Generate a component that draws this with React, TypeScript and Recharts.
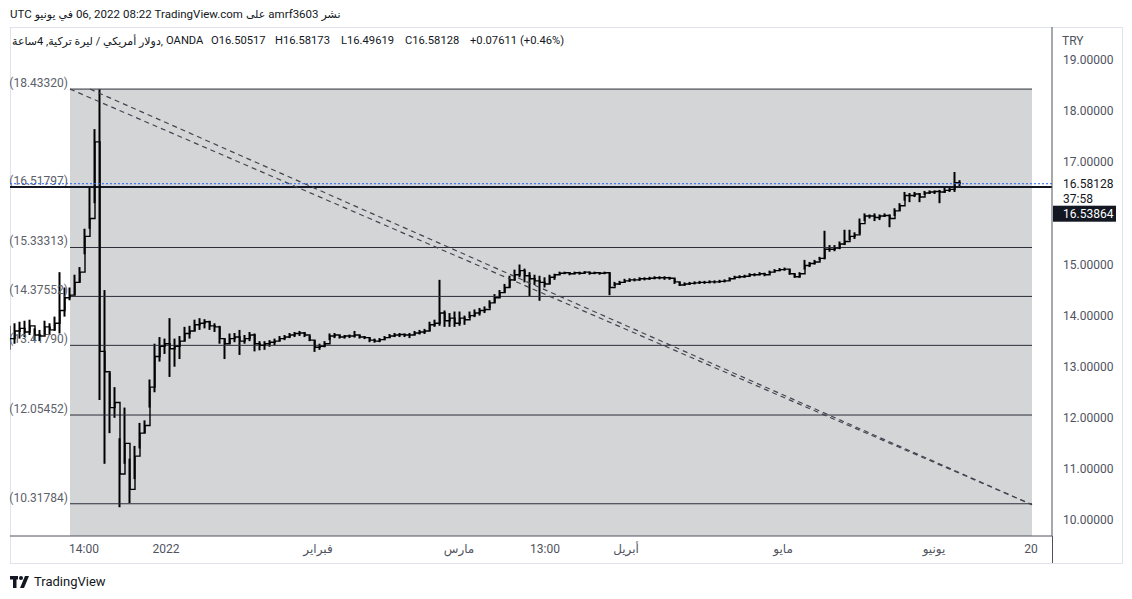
import React from 'react';
import { ComposedChart, Bar, Line, XAxis, YAxis, ReferenceLine, ReferenceArea } from 'recharts';

// USD/TRY 4h bars, grouped: one entry per bar index (close, high, low)
const closes = [
  13.55, 13.70, 13.75, 13.68, 13.80, 13.62, 13.60, 13.78, 13.72, 13.85,
  14.10, 14.35, 14.40, 14.65, 14.85, 15.55, 15.90, 17.40, 13.30, 12.90,
  12.20, 12.30, 10.90, 11.50, 10.60, 11.25, 11.70, 11.85, 12.60, 13.20,
  13.40, 13.45, 13.35, 13.40, 13.50, 13.65, 13.70, 13.82, 13.85, 13.88,
  13.80, 13.78, 13.55, 13.45, 13.55, 13.58, 13.50, 13.55, 13.62, 13.45,
  13.42, 13.45, 13.48, 13.50, 13.55, 13.58, 13.62, 13.65, 13.66, 13.62,
  13.52, 13.38, 13.40, 13.45, 13.60, 13.62, 13.58, 13.60, 13.60, 13.62,
  13.58, 13.57, 13.52, 13.50, 13.53, 13.57, 13.60, 13.62, 13.63, 13.62,
  13.62, 13.66, 13.68, 13.70, 13.82, 13.85, 14.05, 13.90, 13.95, 13.85,
  13.95, 13.92, 14.00, 14.05, 14.10, 14.12, 14.25, 14.35, 14.45, 14.55,
  14.70, 14.80, 14.88, 14.78, 14.72, 14.68, 14.65, 14.62, 14.75, 14.80,
  14.83, 14.84, 14.82, 14.84, 14.83, 14.85, 14.83, 14.84, 14.83, 14.84,
  14.55, 14.62, 14.65, 14.68, 14.70, 14.70, 14.72, 14.72, 14.73, 14.74,
  14.74, 14.74, 14.73, 14.66, 14.60, 14.62, 14.63, 14.64, 14.65, 14.65,
  14.66, 14.66, 14.67, 14.68, 14.72, 14.75, 14.76, 14.77, 14.80, 14.80,
  14.82, 14.80, 14.85, 14.88, 14.90, 14.91, 14.82, 14.76, 14.82, 14.98,
  15.02, 15.05, 15.12, 15.30, 15.30, 15.32, 15.40, 15.45, 15.55, 15.58,
  15.80, 15.95, 15.95, 15.92, 15.95, 15.96, 15.90, 16.05, 16.15, 16.35,
  16.35, 16.38, 16.32, 16.40, 16.42, 16.43, 16.42, 16.45, 16.47, 16.60,
  16.58,
];

const highs = [
  13.80, 13.85, 13.88, 13.90, 13.92, 13.75, 13.72, 13.90, 13.85, 13.98,
  14.85, 14.55, 14.55, 14.80, 14.95, 15.70, 16.50, 17.65, 18.43, 14.50,
  12.88, 12.60, 11.60, 12.20, 11.20, 11.45, 11.90, 11.95, 12.75, 13.45,
  13.58, 13.55, 13.95, 13.55, 13.60, 13.78, 13.80, 13.92, 13.95, 13.93,
  13.90, 13.85, 13.80, 13.55, 13.65, 13.66, 13.72, 13.62, 13.68, 13.65,
  13.50, 13.50, 13.52, 13.55, 13.60, 13.62, 13.66, 13.68, 13.70, 13.68,
  13.60, 13.52, 13.45, 13.50, 13.65, 13.66, 13.62, 13.62, 13.63, 13.70,
  13.62, 13.60, 13.57, 13.55, 13.56, 13.60, 13.64, 13.66, 13.66, 13.65,
  13.66, 13.70, 13.72, 13.74, 13.88, 13.92, 14.70, 14.10, 14.05, 14.08,
  14.08, 14.00, 14.08, 14.12, 14.15, 14.18, 14.30, 14.42, 14.50, 14.62,
  14.78, 14.90, 15.00, 14.92, 14.85, 14.80, 14.78, 14.75, 14.80, 14.82,
  14.86, 14.86, 14.85, 14.86, 14.86, 14.87, 14.86, 14.86, 14.85, 14.86,
  14.84, 14.66, 14.68, 14.72, 14.73, 14.73, 14.75, 14.75, 14.76, 14.77,
  14.77, 14.77, 14.76, 14.72, 14.66, 14.65, 14.66, 14.67, 14.68, 14.68,
  14.69, 14.69, 14.70, 14.71, 14.75, 14.78, 14.79, 14.80, 14.83, 14.83,
  14.85, 14.84, 14.88, 14.91, 14.93, 14.94, 14.91, 14.82, 14.85, 15.09,
  15.05, 15.09, 15.15, 15.66, 15.38, 15.38, 15.45, 15.68, 15.68, 15.63,
  15.90, 16.00, 15.98, 16.00, 15.98, 16.00, 15.98, 16.10, 16.20, 16.42,
  16.40, 16.42, 16.40, 16.44, 16.45, 16.45, 16.46, 16.50, 16.50, 16.81,
  16.65,
];

const lows = [
  13.33, 13.45, 13.55, 13.58, 13.62, 13.52, 13.50, 13.62, 13.62, 13.70,
  13.65, 13.98, 14.30, 14.40, 14.65, 15.20, 15.70, 16.20, 12.35, 11.10,
  11.70, 12.00, 10.25, 11.10, 10.33, 10.80, 11.40, 11.70, 12.20, 12.50,
  13.10, 13.25, 12.80, 13.00, 13.15, 13.50, 13.55, 13.70, 13.72, 13.75,
  13.72, 13.68, 13.45, 13.15, 13.45, 13.48, 13.23, 13.45, 13.50, 13.30,
  13.32, 13.33, 13.39, 13.42, 13.50, 13.52, 13.56, 13.58, 13.60, 13.58,
  13.50, 13.29, 13.33, 13.38, 13.52, 13.56, 13.55, 13.55, 13.56, 13.57,
  13.55, 13.54, 13.48, 13.47, 13.48, 13.52, 13.56, 13.58, 13.58, 13.58,
  13.56, 13.62, 13.63, 13.64, 13.70, 13.78, 13.80, 13.78, 13.78, 13.78,
  13.80, 13.82, 13.95, 13.97, 14.00, 14.05, 14.15, 14.25, 14.35, 14.45,
  14.55, 14.68, 14.75, 14.65, 14.38, 14.60, 14.29, 14.55, 14.62, 14.70,
  14.80, 14.81, 14.79, 14.81, 14.80, 14.82, 14.80, 14.81, 14.80, 14.81,
  14.40, 14.58, 14.60, 14.64, 14.66, 14.67, 14.68, 14.69, 14.70, 14.71,
  14.71, 14.70, 14.70, 14.62, 14.58, 14.59, 14.60, 14.61, 14.62, 14.62,
  14.63, 14.63, 14.64, 14.65, 14.68, 14.72, 14.73, 14.74, 14.77, 14.77,
  14.79, 14.77, 14.82, 14.85, 14.87, 14.88, 14.80, 14.74, 14.74, 14.90,
  14.95, 15.00, 15.08, 15.10, 15.25, 15.26, 15.30, 15.38, 15.48, 15.50,
  15.60, 15.85, 15.90, 15.85, 15.87, 15.93, 15.73, 15.95, 16.05, 16.25,
  16.22, 16.32, 16.22, 16.36, 16.38, 16.38, 16.20, 16.40, 16.42, 16.42,
  16.50,
];

// drawing tools: price levels, rectangle and the double trend line
const levels = [18.4332, 16.51797, 15.33313, 14.37552, 13.4179, 12.05452, 10.31784];
const boxStart = 12;
const boxEnd = 204.4;
const trendStartsX = [12, 16];
const trendStartY = 18.4332;
const trendEnd = { x: 204.4, y: 10.3 };

const timeTicks = [14.8, 31.2, 61.6, 89.8, 107, 123.2, 154.6, 184.8, 204.2];
const timeLabels = ['14:00', '2022', 'فبراير', 'مارس', '13:00', 'أبريل', 'مايو', 'يونيو', '20'];
const priceTicks = [10, 11, 12, 13, 14, 15, 17, 18, 19];

const lastPrice = 16.58128;
const boxedPrice = '16.53864';
const countdown = '37:58';

const yMin = 9.687;
const yMax = 19.648;

// header tokens in the order they appear on screen, left to right
const titleTokens = ['UTC', 'يونيو', 'في', '06,', '2022', '08:22', 'TradingView.com', 'على', 'amrf3603', 'نشر'];
const symbolName = 'دولار أمريكي / ليرة تركية, 4ساعة,';
const ohlcTokens = [
  { t: 'OANDA', x: 166 },
  { t: 'O16.50517', x: 211 },
  { t: 'H16.58173', x: 275 },
  { t: 'L16.49619', x: 341 },
  { t: 'C16.58128', x: 405 },
  { t: '+0.07611', x: 470 },
  { t: '(+0.46%)', x: 520 },
];

const data = closes.map((c, i) => ({ i, close: c, range: [lows[i], highs[i]] }));

const AXIS_TEXT = '#50535e';
const isArabic = (s: string) => /[\u0600-\u06FF]/.test(s);

const PriceTick = ({ x, y, payload }: any) => (
  <text x={x + 11} y={y + 4} fontSize={12} fill={AXIS_TEXT}>
    {payload.value.toFixed(5)}
  </text>
);

const TimeTick = ({ x, y, payload }: any) => (
  <text x={x} y={y + 17} fontSize={12} fill={AXIS_TEXT} textAnchor="middle">
    {timeLabels[timeTicks.indexOf(payload.value)]}
  </text>
);

const levelLabel = (value: number) => (props: any) => {
  const vb = props.viewBox || {};
  return (
    <text x={vb.x - 2} y={vb.y - 2} fontSize={12} fill="#5d606b" textAnchor="end">
      ({value.toFixed(5)})
    </text>
  );
};

const LastPriceLabel = (props: any) => {
  const vb = props.viewBox || {};
  const x = vb.x + vb.width;
  const y = vb.y;
  return (
    <g>
      <text x={x + 11} y={y + 4} fontSize={12} fill="#131722">{lastPrice.toFixed(5)}</text>
      <text x={x + 11} y={y + 19} fontSize={12} fill="#131722">{countdown}</text>
      <rect x={x + 1} y={y + 22} width={63} height={16} fill="#131722" />
      <text x={x + 11} y={y + 34} fontSize={12} fill="#fff">{boxedPrice}</text>
    </g>
  );
};

export default function App() {
  return (
    <div style={{ position: 'relative', width: 1132, height: 599, background: '#fff', fontFamily: "Roboto, 'DejaVu Sans', sans-serif", color: '#131722' }}>
      <style>{'body{margin:0}'}</style>

      <div style={{ position: 'absolute', left: 10, top: 6, lineHeight: '16px', display: 'flex', gap: 3, alignItems: 'baseline', whiteSpace: 'nowrap' }}>
        {titleTokens.map((t, k) => (
          <span key={k} style={{ display: 'inline-block', fontSize: isArabic(t) ? 11 : 11.5 }}>{t}</span>
        ))}
      </div>

      <div style={{ position: 'absolute', left: 10, top: 27, width: 1111, height: 535, border: '1px solid #e0e3eb' }} />

      <div style={{ position: 'absolute', right: 1132 - 163, top: 34, fontSize: 11, lineHeight: '16px', whiteSpace: 'nowrap', zIndex: 2 }}>
        {symbolName}
      </div>
      {ohlcTokens.map((o) => (
        <div key={o.t} style={{ position: 'absolute', left: o.x, top: 33, fontSize: 11.2, lineHeight: '16px', whiteSpace: 'nowrap', zIndex: 2 }}>
          {o.t}
        </div>
      ))}

      <div style={{ position: 'absolute', left: 1062, top: 33, fontSize: 12, lineHeight: '16px', color: AXIS_TEXT }}>TRY</div>

      <div style={{ position: 'absolute', left: 0, top: 0 }}>
        <ComposedChart width={1132} height={563} data={data} margin={{ top: 27, right: 10, left: 10, bottom: 0 }}>
          <XAxis
            dataKey="i"
            type="number"
            domain={[0, 208.4]}
            ticks={timeTicks}
            allowDataOverflow
            height={27}
            tickSize={0}
            tickMargin={0}
            tickLine={false}
            axisLine={{ stroke: '#50535e' }}
            tick={<TimeTick />}
            interval={0}
          />
          <YAxis
            orientation="right"
            type="number"
            domain={[yMin, yMax]}
            ticks={priceTicks}
            allowDataOverflow
            width={70}
            tickSize={0}
            tickMargin={0}
            tickLine={false}
            axisLine={{ stroke: '#50535e' }}
            tick={<PriceTick />}
            interval={0}
          />

          <ReferenceArea x1={boxStart} x2={boxEnd} y1={yMin} y2={levels[0]} fill="#d4d5d7" fillOpacity={1} stroke="none" ifOverflow="visible" />

          {levels.map((lv) => (
            <ReferenceLine
              key={lv}
              segment={[{ x: boxStart, y: lv }, { x: boxEnd, y: lv }]}
              stroke="#2a2e39"
              strokeWidth={1}
              ifOverflow="visible"
              label={levelLabel(lv)}
            />
          ))}
          <ReferenceLine y={levels[1]} stroke="#131722" strokeWidth={2} />

          {trendStartsX.map((sx) => (
            <ReferenceLine
              key={sx}
              segment={[{ x: sx, y: trendStartY }, trendEnd]}
              stroke="#434651"
              strokeWidth={1.2}
              strokeDasharray="5 4"
              ifOverflow="visible"
            />
          ))}

          <Bar dataKey="range" barSize={2} fill="#000" isAnimationActive={false} />
          <Line dataKey="close" type="stepAfter" stroke="#000" strokeWidth={1.4} dot={false} isAnimationActive={false} />

          <ReferenceLine y={lastPrice} stroke="#2962ff" strokeWidth={1} strokeDasharray="2 2" label={<LastPriceLabel />} />
        </ComposedChart>
      </div>

      <div style={{ position: 'absolute', left: 1052, top: 536, width: 1, height: 27, background: '#50535e' }} />

      <div style={{ position: 'absolute', left: 10, top: 574, display: 'flex', alignItems: 'center', gap: 4 }}>
        <svg width={20} height={12} viewBox="0 0 20 12">
          <rect x={0} y={0} width={8} height={3.5} fill="#131722" />
          <rect x={3} y={0} width={3.5} height={12} fill="#131722" />
          <circle cx={11} cy={2} r={2} fill="#131722" />
          <polygon points="15,0 19,0 14,12 10,12" fill="#131722" />
        </svg>
        <span style={{ fontSize: 13 }}>TradingView</span>
      </div>
    </div>
  );
}
